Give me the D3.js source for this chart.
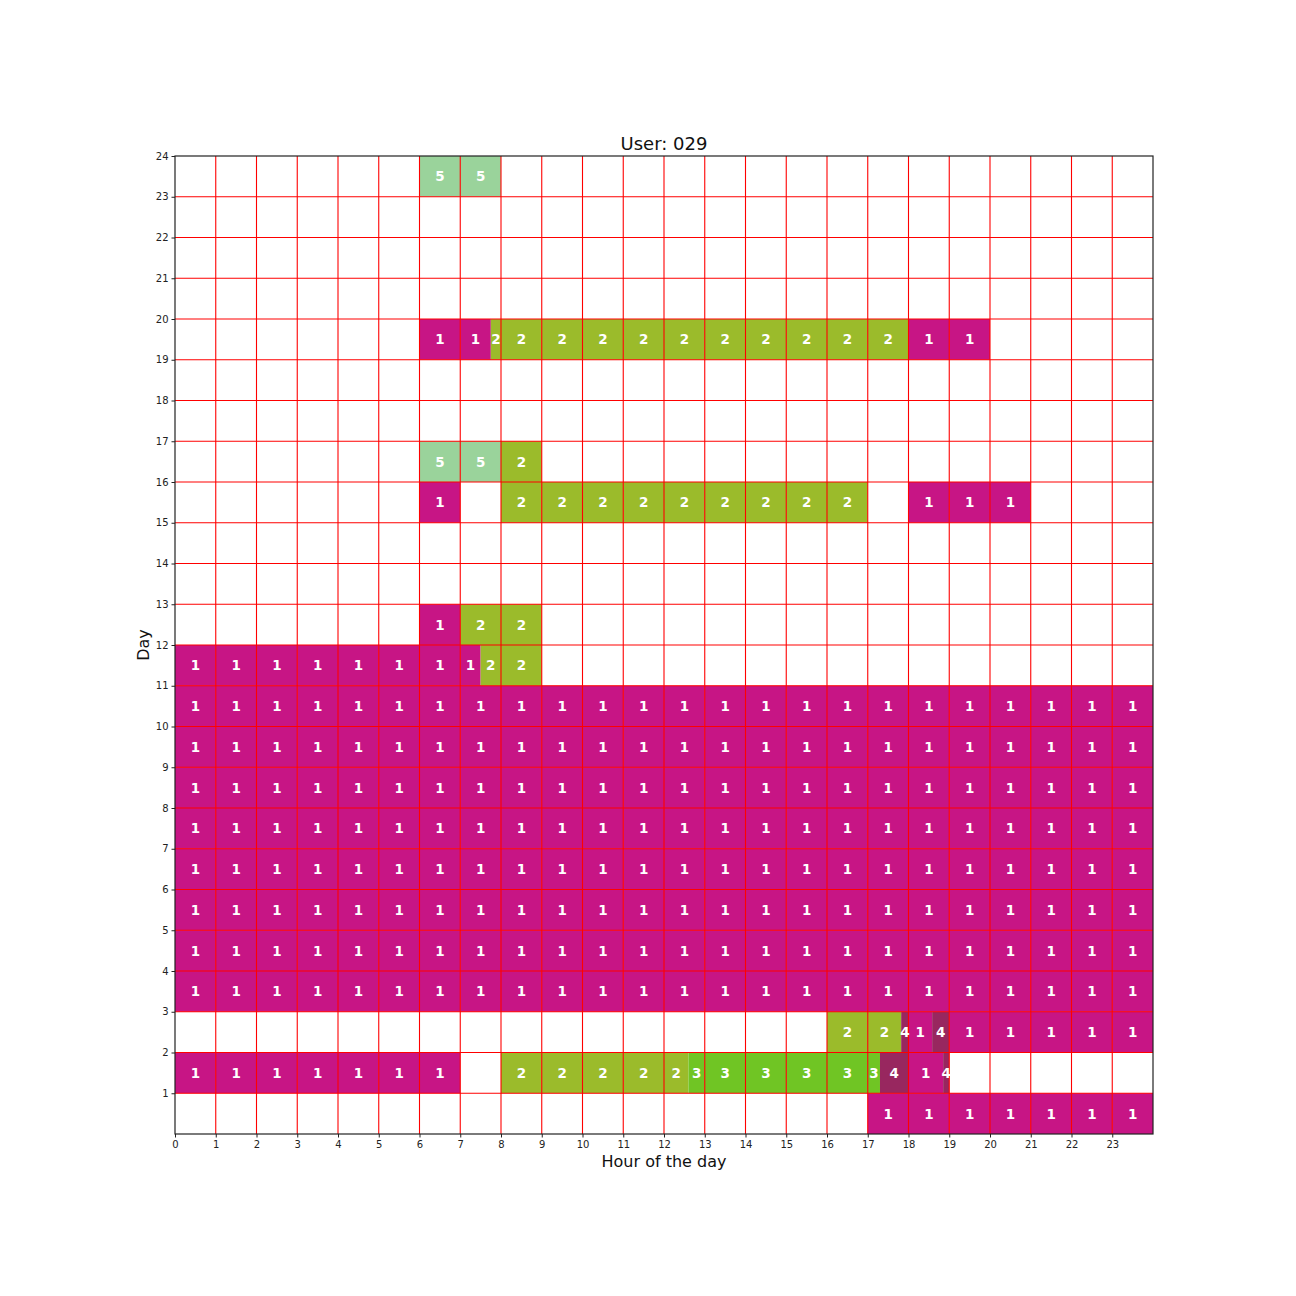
<!DOCTYPE html>
<html>
<head>
<meta charset="utf-8">
<script src="https://cdn.jsdelivr.net/npm/d3@7"></script>
<style>
  body { margin: 0; background: #fff; }
  text { font-family: "DejaVu Sans", sans-serif; }
</style>
</head>
<body>
<svg id="chart" width="1296" height="1296"></svg>
<script>
// Activity runs: day row, start hour, end hour, activity code
const runDays   = [0,  1, 1,  1,    1,    1,  1,     2,  2,     2,  2,     2,  3,  4,  5,  6,  7,  8,  9,  10, 11,  11,  12, 12, 15, 15, 15, 16, 16, 19,   19,   19, 23];
const runStarts = [17, 0, 8,  12.6, 17.3, 18, 18.85, 16, 17.82, 18, 18.58, 19, 0,  0,  0,  0,  0,  0,  0,  0,  0,   7.5, 6,  7,  6,  8,  18, 6,  8,  6,    7.75, 18, 6];
const runEnds   = [24, 7, 12.6, 17.3, 18, 18.85, 19, 17.82, 18, 18.58, 19, 24, 24, 24, 24, 24, 24, 24, 24, 24, 7.5, 9,   7,  9,  7,  17, 21, 8,  9,  7.75, 18,   20, 8];
const runActs   = [1,  1, 2,  3,    4,    1,  4,     2,  4,     1,  4,     1,  1,  1,  1,  1,  1,  1,  1,  1,  1,   2,   1,  2,  1,  2,  1,  5,  2,  1,    2,    1,  5];

const hourTicks = d3.range(0, 24);     // x tick labels 0..23
const dayTicks  = d3.range(1, 25);     // y tick labels 1..24
const actColors = {1: "#c71585", 2: "#9bbb2b", 3: "#70c524", 4: "#98275f", 5: "#9ad39b"};

const svg = d3.select("#chart");
const mLeft = 175, mRight = 1153, mTop = 156, mBottom = 1134;
const x = d3.scaleLinear().domain([0, 24]).range([mLeft, mRight]);
const y = d3.scaleLinear().domain([0, 24]).range([mBottom, mTop]);

// split runs into cells at whole-hour boundaries
const cells = [];
runDays.forEach((d, i) => {
  const s = runStarts[i], e = runEnds[i];
  if (e <= s) return;
  let a = s;
  while (a < e - 1e-9) {
    const b = Math.min(Math.floor(a + 1e-9) + 1, e);
    cells.push({day: d, start: a, end: b, act: runActs[i]});
    a = b;
  }
});

svg.append("g").selectAll("rect").data(cells).join("rect")
  .attr("x", c => x(c.start))
  .attr("y", c => y(c.day + 1))
  .attr("width", c => x(c.end) - x(c.start))
  .attr("height", c => y(c.day) - y(c.day + 1))
  .attr("fill", c => actColors[c.act]);

// grid lines
const grid = svg.append("g").attr("stroke", "#ff0000").attr("stroke-width", 1.1);
d3.range(1, 24).forEach(h => {
  grid.append("line").attr("x1", x(h)).attr("x2", x(h)).attr("y1", mTop).attr("y2", mBottom);
});
d3.range(1, 24).forEach(d => {
  grid.append("line").attr("x1", mLeft).attr("x2", mRight).attr("y1", y(d)).attr("y2", y(d));
});

// cell labels
svg.append("g").selectAll("text").data(cells).join("text")
  .attr("x", c => x((c.start + c.end) / 2))
  .attr("y", c => y(c.day + 0.5))
  .attr("text-anchor", "middle")
  .attr("dominant-baseline", "central")
  .attr("fill", "#fff")
  .attr("font-weight", "bold")
  .attr("font-size", "13.5px")
  .text(c => c.act);

// axes
const xAxis = d3.axisBottom(x).tickValues(hourTicks).tickSize(3.5).tickPadding(3).tickFormat(d3.format("d"));
const gx = svg.append("g").attr("transform", `translate(0,${mBottom})`).call(xAxis);
const yAxis = d3.axisLeft(y).tickValues(dayTicks).tickSize(3.5).tickPadding(3).tickFormat(d3.format("d"));
const gy = svg.append("g").attr("transform", `translate(${mLeft},0)`).call(yAxis);
[gx, gy].forEach(g => {
  g.select(".domain").remove();
  g.selectAll("text").attr("font-size", "10px").attr("fill", "#222").style("font-family", "DejaVu Sans");
  g.selectAll("line").attr("stroke", "#222");
});

// frame
svg.append("rect").attr("x", mLeft).attr("y", mTop).attr("width", mRight - mLeft).attr("height", mBottom - mTop)
  .attr("fill", "none").attr("stroke", "#222").attr("stroke-width", 1.2);

// titles
svg.append("text").attr("x", (mLeft + mRight) / 2).attr("y", 150).attr("text-anchor", "middle")
  .attr("font-size", "18px").attr("fill", "#111").text("User: 029");
svg.append("text").attr("x", (mLeft + mRight) / 2).attr("y", 1167).attr("text-anchor", "middle")
  .attr("font-size", "16px").attr("fill", "#111").text("Hour of the day");
svg.append("text").attr("transform", `translate(149,${(mTop + mBottom) / 2}) rotate(-90)`).attr("text-anchor", "middle")
  .attr("font-size", "16px").attr("fill", "#111").text("Day");
</script>
</body>
</html>
